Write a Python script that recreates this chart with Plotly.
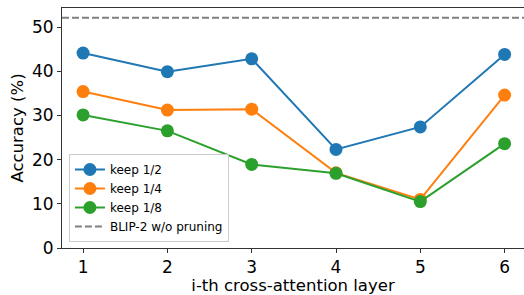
import plotly.graph_objects as go

layers = [1, 2, 3, 4, 5, 6]
keep_half = [44.1, 39.9, 42.8, 22.3, 27.4, 43.8]
keep_quarter = [35.4, 31.2, 31.4, 17.0, 11.0, 34.6]
keep_eighth = [30.1, 26.5, 18.9, 16.9, 10.5, 23.6]
baseline = 52.1
series_names = ["keep 1/2", "keep 1/4", "keep 1/8"]
baseline_name = "BLIP-2 w/o pruning"
colors = ["#1f77b4", "#ff7f0e", "#2ca02c"]

font = "DejaVu Sans"
fig = go.Figure()
for name, vals, c in zip(series_names, [keep_half, keep_quarter, keep_eighth], colors):
    fig.add_trace(go.Scatter(x=layers, y=vals, name=name, mode="lines+markers",
                             line=dict(color=c, width=2), marker=dict(color=c, size=13)))
fig.add_trace(go.Scatter(x=[None], y=[None], name=baseline_name, mode="lines",
                         line=dict(color="gray", width=2, dash="7px,3px")))
fig.add_shape(type="line", xref="paper", x0=0, x1=1, yref="y", y0=baseline, y1=baseline,
              line=dict(color="gray", width=2, dash="7px,3px"), layer="below")

fig.update_layout(
    width=524, height=295,
    margin=dict(l=62, r=0, t=8, b=47),
    paper_bgcolor="white", plot_bgcolor="white",
    font=dict(family=font, size=17, color="black"),
    showlegend=True,
    legend=dict(x=0.015, y=0.025, xanchor="left", yanchor="bottom",
                bgcolor="rgba(255,255,255,0.8)", bordercolor="#cccccc", borderwidth=1,
                font=dict(size=12, family=font), tracegroupgap=0),
    xaxis=dict(range=[0.75, 6.23], tickvals=layers, showgrid=False, zeroline=False,
               showline=True, linecolor="#333", linewidth=1, mirror=True,
               ticks="outside", ticklen=4, tickcolor="#333",
               title=dict(text="i-th cross-attention layer", standoff=2, font=dict(size=16.5))),
    yaxis=dict(range=[0, 54.3], tickvals=[0, 10, 20, 30, 40, 50], showgrid=False, zeroline=False,
               showline=True, linecolor="#333", linewidth=1,
               ticks="outside", ticklen=4, tickcolor="#333",
               title=dict(text="Accuracy (%)", standoff=4, font=dict(size=16.5))),
)
fig.write_html("out.html", config={"displayModeBar": False},
               post_script="document.body.style.margin='0';document.body.style.padding='0';document.body.style.overflow='hidden';")
